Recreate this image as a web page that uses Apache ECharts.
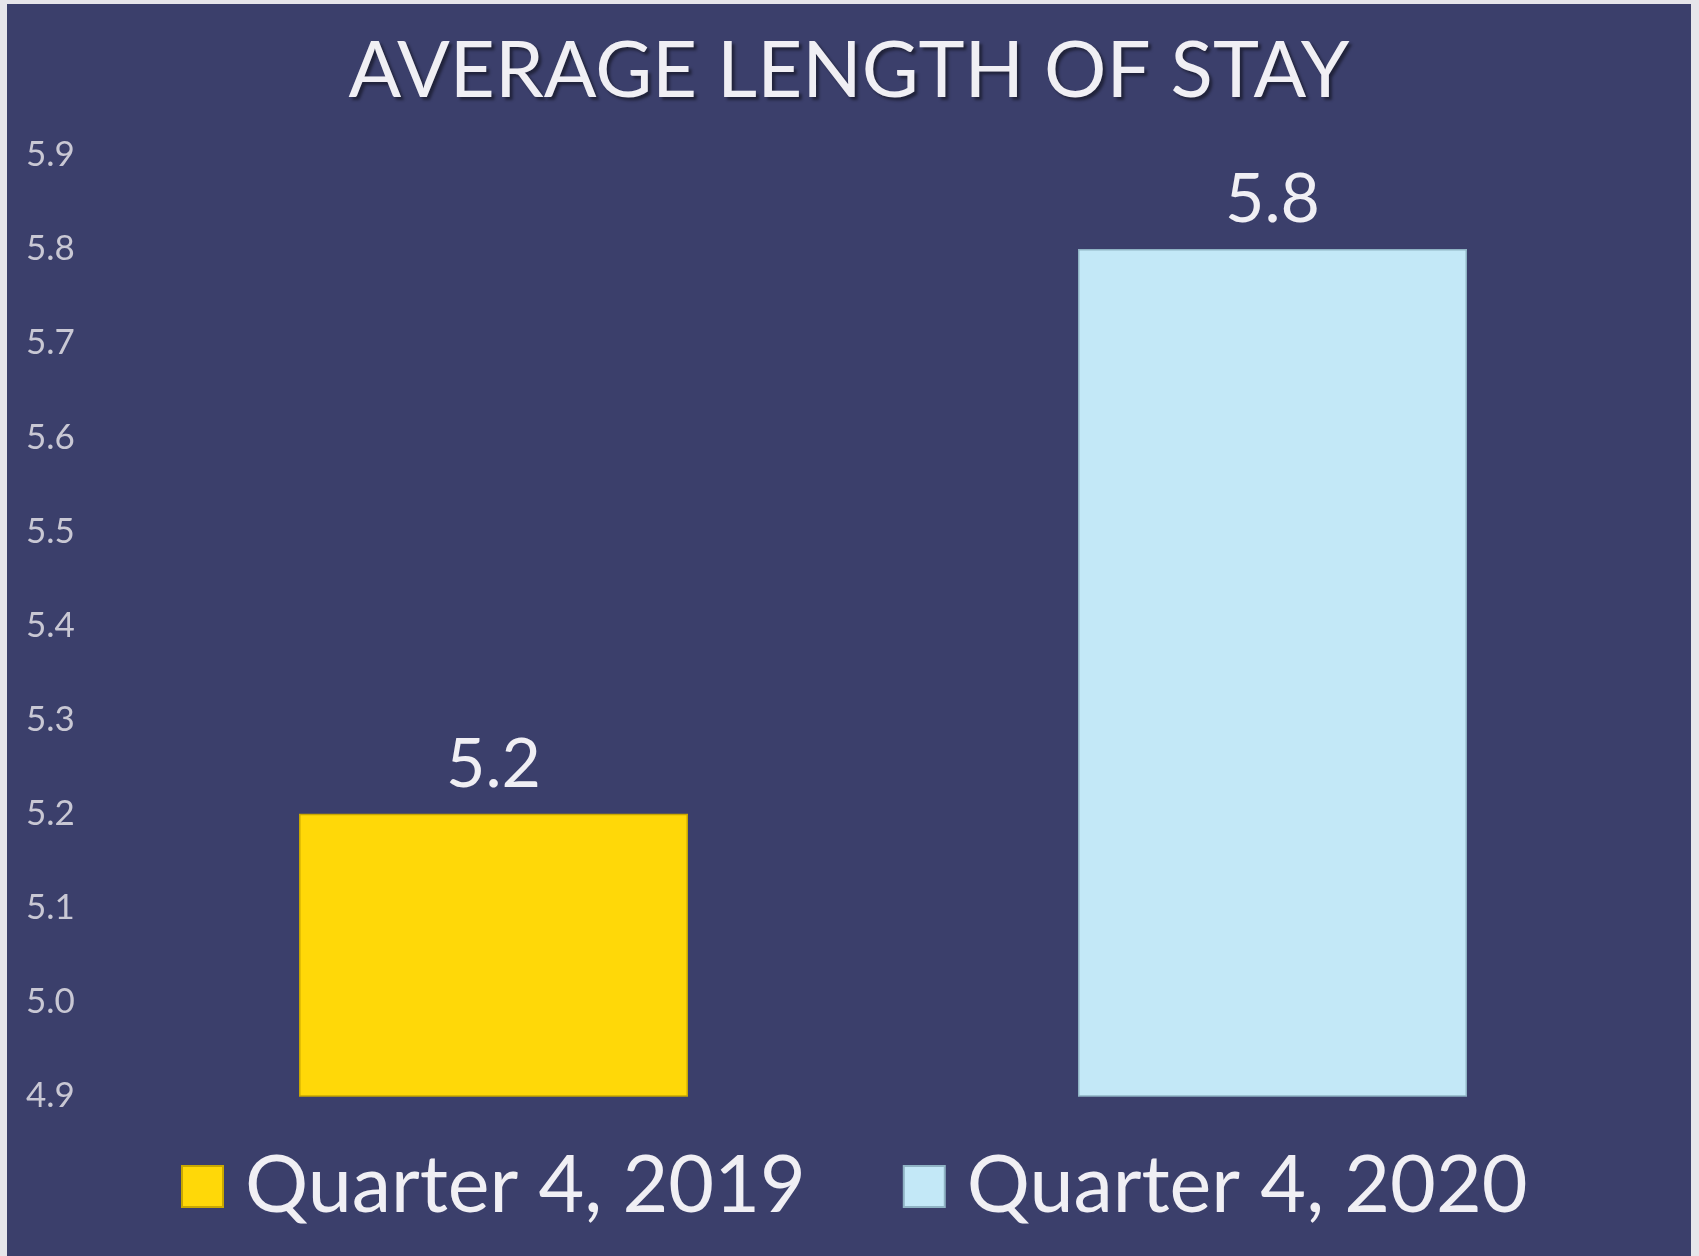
<!DOCTYPE html>
<html>
<head>
<meta charset="utf-8">
<title>Average Length of Stay</title>
<script src="https://cdn.jsdelivr.net/npm/echarts@6/dist/echarts.min.js"></script>
<style>
  html, body { margin: 0; padding: 0; background: #e6e5ea; }
  #chart { position: absolute; left: 7px; top: 4px; width: 1684px; height: 1252px; }
</style>
</head>
<body>
<div id="chart"></div>
<script>
// 数据
var categories = ['Quarter 4, 2019', 'Quarter 4, 2020'];
var values = [5.2, 5.8];
var barColors = ['#FFD808', '#C3E8F7'];
var yTicks = [4.9, 5.0, 5.1, 5.2, 5.3, 5.4, 5.5, 5.6, 5.7, 5.8, 5.9];

var chart = echarts.init(document.getElementById('chart'));

// 每个类别一个系列，这样图例能显示两项
var series = categories.map(function (name, i) {
  var data = categories.map(function (c, j) { return j === i ? values[i] : '-'; });
  return {
    name: name,
    type: 'bar',
    data: data,
    barWidth: 389,
    barGap: '-100%',
    itemStyle: {
      color: barColors[i],
      borderColor: i === 0 ? '#C9A800' : '#8FB3C4',
      borderWidth: 1.5
    },
    label: {
      show: true,
      position: 'top',
      distance: 15,
      color: '#F0EFF4',
      fontFamily: 'Lato',
      fontSize: 68,
      formatter: function (p) { return p.value.toFixed(1); }
    }
  };
});

var option = {
  backgroundColor: '#3B3F6B',
  animation: false,
  title: {
    text: 'AVERAGE LENGTH OF STAY',
    left: 'center',
    top: 24,
    textStyle: {
      color: '#F0EFF4',
      fontFamily: 'Lato',
      fontWeight: 'normal',
      fontSize: 78,
      textShadowColor: 'rgba(0,0,0,0.45)',
      textShadowBlur: 3,
      textShadowOffsetX: 3,
      textShadowOffsetY: 3
    }
  },
  legend: {
    data: categories,
    left: 169,
    top: 1138,
    icon: 'rect',
    itemWidth: 41,
    itemHeight: 41,
    itemGap: 97,
    textStyle: {
      color: '#F0EFF4',
      fontFamily: 'Lato',
      fontSize: 79,
      padding: [0, 0, 0, 17]
    }
  },
  grid: { left: 97, right: 29, top: 151, bottom: 160 },
  xAxis: {
    type: 'category',
    data: categories,
    axisLine: { show: false },
    axisTick: { show: false },
    axisLabel: { show: false }
  },
  yAxis: {
    type: 'value',
    min: yTicks[0],
    max: yTicks[yTicks.length - 1],
    interval: 0.1,
    splitLine: { show: false },
    axisLine: { show: false },
    axisTick: { show: false },
    axisLabel: {
      align: 'left',
      margin: 78,
      color: '#C9C8D4',
      fontFamily: 'Lato',
      fontSize: 35,
      formatter: function (v) { return v.toFixed(1); }
    }
  },
  series: series
};

chart.setOption(option);
window.addEventListener('resize', chart.resize);
</script>
</body>
</html>
